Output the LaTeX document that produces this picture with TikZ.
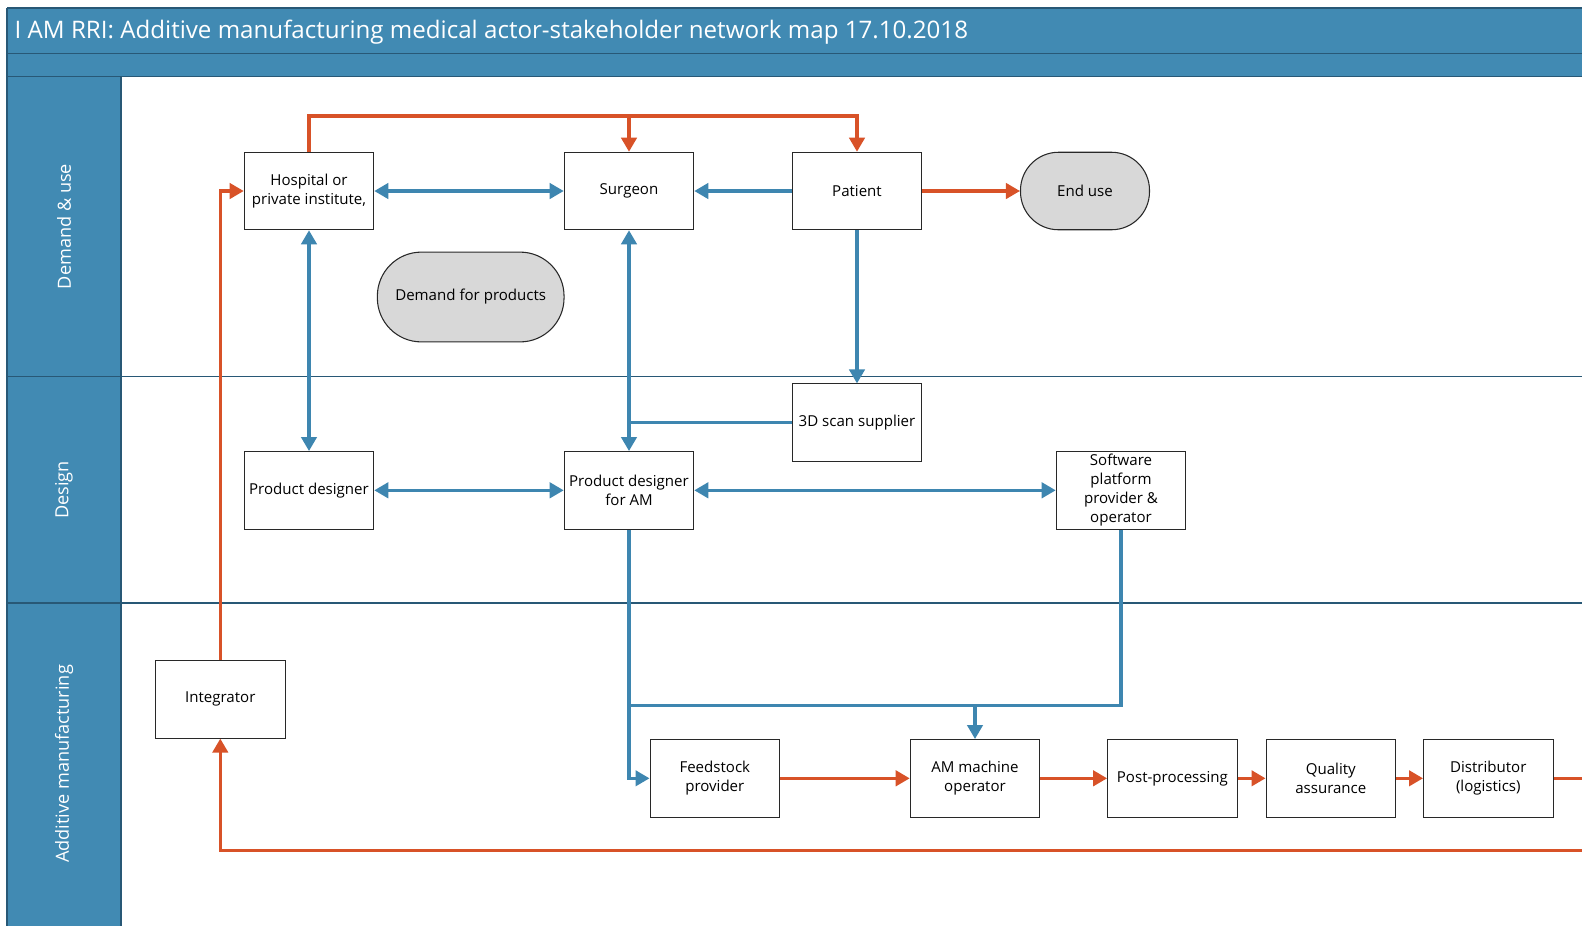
\documentclass[tikz,border=0pt]{standalone}
\usepackage{fontspec}
\setmainfont{Open Sans}
\usetikzlibrary{arrows.meta}
\definecolor{lanebar}{RGB}{65,138,179}
\definecolor{laneedge}{RGB}{40,88,118}
\definecolor{flowblue}{RGB}{62,134,176}
\definecolor{flowred}{RGB}{216,82,40}
\definecolor{pillgray}{RGB}{216,216,216}
\definecolor{boxedge}{RGB}{40,40,40}
\tikzset{
  actor/.style={draw=boxedge, line width=0.8pt, fill=white, minimum width=129.5*0.75pt,
    minimum height=77.5*0.75pt, inner sep=1pt, align=center, font=\fontsize{11.3}{14.2}\selectfont},
  pill/.style={draw=boxedge, line width=0.8pt, fill=pillgray, rounded corners=38*0.75pt,
    minimum width=129*0.75pt, minimum height=77.5*0.75pt, align=center, font=\fontsize{11.3}{14.2}\selectfont},
  blueflow/.style={draw=flowblue, line width=2.4pt},
  redflow/.style={draw=flowred, line width=2.4pt},
  lanetext/.style={text=white, rotate=90, font=\fontsize{13.6}{16}\selectfont},
}
\begin{document}
\begin{tikzpicture}[x=0.75pt, y=-0.75pt, >={Triangle[length=10.5pt, width=11.5pt]}]
\useasboundingbox (0,0) rectangle (1582,926);
\fill[white] (0,0) rectangle (1582,926);
% header bars
\fill[lanebar] (7,8) rectangle (1582,76.7);
\draw[laneedge, line width=0.8pt] (7,8) -- (1582,8);
\draw[laneedge, line width=1pt] (7,53.5) -- (1582,53.5);
\draw[laneedge, line width=1pt] (7,76.7) -- (1582,76.7);
\node[anchor=west, text=white, font=\fontsize{18.1}{21}\selectfont] (title) at (10,32)
  {I AM RRI: Additive manufacturing medical actor-stakeholder network map 17.10.2018};
% lane header column
\fill[lanebar] (7,76.7) rectangle (121,926);
\draw[laneedge, line width=0.8pt] (7,8) -- (7,926);
\draw[laneedge, line width=0.8pt] (121,76.7) -- (121,926);
% lane separators
\draw[laneedge, line width=0.9pt] (7,376.3) -- (1582,376.3);
\draw[laneedge, line width=0.9pt] (7,603) -- (1582,603);
\node[lanetext] (lane1) at (64,226.5) {Demand \& use};
\node[lanetext] (lane2) at (64,490) {Design};
\node[lanetext] (lane3) at (64,764) {Additive manufacturing};

% actors
\node[actor] (hosp) at (309,191) {Hospital or\\private institute,};
\node[actor] (surg) at (629,191) {Surgeon};
\node[actor] (pat) at (857,191) {Patient};
\node[pill] (enduse) at (1085,191) {End use};
\node[pill, minimum width=186.7*0.75pt, minimum height=89.8*0.75pt, rounded corners=44*0.75pt] (demand) at (470.7,297) {Demand for products};
\node[actor] (scan) at (857,422.7) {3D scan supplier};
\node[actor] (pd) at (309,490.3) {Product designer};
\node[actor] (pdam) at (629,490.3) {Product designer\\for AM};
\node[actor] (soft) at (1121,490.3) {Software\\platform\\provider \&\\operator};
\node[actor] (integ) at (220.3,699.3) {Integrator};
\node[actor] (feed) at (714.8,778.3) {Feedstock\\provider};
\node[actor] (amop) at (975,778.3) {AM machine\\operator};
\node[actor] (post) at (1172.4,778.3) {Post-processing};
\node[actor] (qa) at (1330.8,778.3) {Quality\\assurance};
\node[actor] (dist) at (1488.3,778.3) {Distributor\\(logistics)};

% routing points
\coordinate (toprun) at (857,116);
\coordinate (joinAM) at (629,705.7);
\coordinate (outR) at (1582,778.3);
\coordinate (backR) at (1582,850.7);
\coordinate (backL) at (220.3,850.7);

% red flows
\draw[redflow, ->] (hosp.north) |- (toprun) -- (pat.north);
\draw[redflow, ->] (surg.north |- toprun) -- (surg.north);
\draw[redflow, ->] (integ.north) |- (hosp.west);
\draw[redflow, ->] (pat.east) -- (enduse.west);
\draw[redflow, ->] (feed.east) -- (amop.west);
\draw[redflow, ->] (amop.east) -- (post.west);
\draw[redflow, ->] (post.east) -- (qa.west);
\draw[redflow, ->] (qa.east) -- (dist.west);
\draw[redflow] (dist.east) -- (outR);
\draw[redflow, ->] (backR) -- (backL) -- (integ.south);

% blue flows
\draw[blueflow, <->] (hosp.east) -- (surg.west);
\draw[blueflow, ->] (pat.west) -- (surg.east);
\draw[blueflow, ->] (pat.south) -- (scan.north);
\draw[blueflow, <->] (hosp.south) -- (pd.north);
\draw[blueflow, <->] (surg.south) -- (pdam.north);
\draw[blueflow] (scan.west) -- (surg.south |- scan.west);
\draw[blueflow, <->] (pd.east) -- (pdam.west);
\draw[blueflow, <->] (pdam.east) -- (soft.west);
\draw[blueflow, ->] (pdam.south) |- (feed.west);
\draw[blueflow] (soft.south) |- (joinAM);
\draw[blueflow, ->] (amop.north |- joinAM) -- (amop.north);
\end{tikzpicture}
\end{document}
